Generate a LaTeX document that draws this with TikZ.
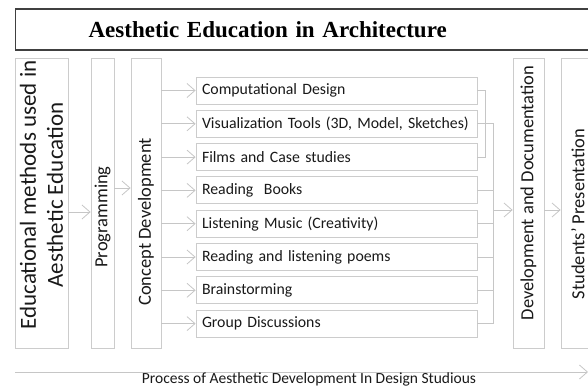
\documentclass[tikz,border=0pt]{standalone}
\usepackage{fontspec}
\setmainfont{Carlito}
\newfontfamily\titlefont{Liberation Serif}
\usetikzlibrary{arrows.meta, positioning}

\begin{document}
\begin{tikzpicture}[
    x=1pt, y=-1pt,
    titlebox/.style={rectangle, draw=black!75, line width=1.2pt, minimum height=41pt, text width=520pt, inner xsep=73pt, align=left, font=\titlefont\bfseries\fontsize{23}{27}\selectfont},
    vbox/.style={rectangle, draw=gray!40, line width=0.8pt, minimum height=290pt, inner sep=0pt},
    vlabel/.style={rotate=90, align=center, font=\fontsize{18.5}{22}\selectfont, text=black!90},
    item/.style={rectangle, draw=gray!40, line width=0.8pt, minimum height=27pt, text width=273pt, inner xsep=4pt, inner ysep=0pt, align=left, font=\fontsize{15.8}{19}\selectfont, text=black!90},
    line/.style={draw=gray!45, line width=0.8pt},
    arrow/.style={-{Straight Barb[length=8pt, width=14pt]}, draw=gray!45, line width=0.8pt}
]
\useasboundingbox (0,0) rectangle (588,387);

% Title
\node[titlebox, anchor=west] (title) at (15,29.5) {Aesthetic Education in Architecture};

% Vertical stages
\node[vbox, minimum width=53pt] (edu) at (41.5,203) {};
\node[vlabel, font=\fontsize{23}{27}\selectfont] (edutext) at (41.5,195) {Educational methods used in\\Aesthetic Education};
\node[vbox, minimum width=23pt] (prog) at (102.5,203) {};
\node[vlabel] (progtext) at (102.5,217) {Programming};
\node[vbox, minimum width=30pt] (concept) at (146,203) {};
\node[vlabel] (concepttext) at (146,222) {Concept Development};
\node[vbox, minimum width=31pt] (dev) at (528.5,203) {};
\node[vlabel] (devtext) at (528.5,193) {Development and Documentation};
\node[vbox, minimum width=39pt] (students) at (580.5,203) {};
\node[vlabel] (studentstext) at (578,214) {Students' Presentation};

% Methods
\node[item] (comp) at (336.5,90.5) {\hspace{2pt}Computational Design};
\node[item, below=5.5pt of comp] (visual) {\hspace{2pt}Visualization Tools (3D, Model, Sketches)};
\node[item, below=5.5pt of visual] (films) {\hspace{2pt}Films and Case studies};
\node[item, below=5.5pt of films] (books) {\hspace{2pt}Reading\ \ Books};
\node[item, below=5.5pt of books] (music) {\hspace{2pt}Listening Music (Creativity)};
\node[item, below=5.5pt of music] (poems) {\hspace{2pt}Reading and listening poems};
\node[item, below=5.5pt of poems] (brain) {\hspace{2pt}Brainstorming};
\node[item, below=5.5pt of brain] (group) {\hspace{2pt}Group Discussions};

% Flow between stages
\draw[arrow] ([yshift=-9pt]edu.east) -- ([yshift=-9pt]edu.east -| prog.west);
\draw[arrow] ([yshift=15pt]prog.east) -- ([yshift=15pt]prog.east -| concept.west);
\draw[arrow] (concept.east |- comp) -- (comp.west);
\draw[arrow] (concept.east |- visual) -- (visual.west);
\draw[arrow] (concept.east |- films) -- (films.west);
\draw[arrow] (concept.east |- books) -- (books.west);
\draw[arrow] (concept.east |- music) -- (music.west);
\draw[arrow] (concept.east |- poems) -- (poems.west);
\draw[arrow] (concept.east |- brain) -- (brain.west);
\draw[arrow] (concept.east |- group) -- (group.west);

% Collecting lines
\draw[line] (comp.east) -- ++(8,0) |- (films.east);
\draw[line] (visual.east) -- ++(16,0) coordinate (bus) |- (group.east);
\draw[line] (books.east) -- (books.east -| bus);
\draw[line] (music.east) -- (music.east -| bus);
\draw[line] (poems.east) -- (poems.east -| bus);
\draw[line] (brain.east) -- (brain.east -| bus);
\coordinate (merge) at (bus |- 0,210);
\draw[arrow] (merge) -- (merge -| dev.west);
\draw[arrow] (dev.east |- merge) -- (students.west |- merge);

% Process axis
\coordinate (start) at (15,372);
\coordinate (end) at (588,372);
\draw[arrow] (start) -- (end);
\node[anchor=base, font=\fontsize{15.5}{18}\selectfont, text=black!90] (process) at (309,383) {Process of Aesthetic Development In Design Studious};

\end{tikzpicture}
\end{document}
